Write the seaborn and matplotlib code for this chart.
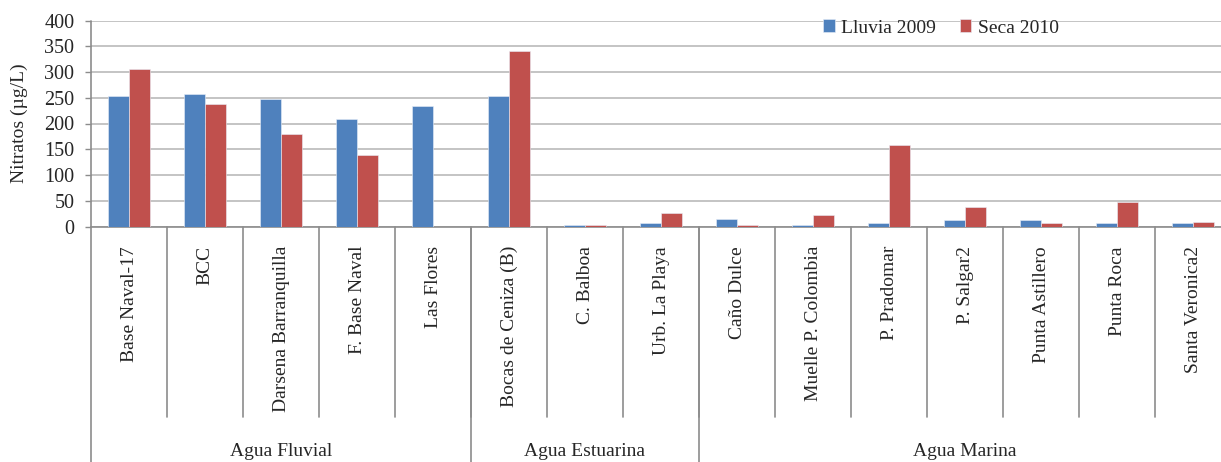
import numpy as np
import pandas as pd
import matplotlib
matplotlib.use("Agg")
import matplotlib.pyplot as plt
import matplotlib.transforms as mtransforms
import seaborn as sns

# station names (bottom level of the category axis)
stations = ["Base Naval-17", "BCC", "Darsena Barranquilla", "F. Base Naval", "Las Flores",
            "Bocas de Ceniza (B)", "C. Balboa", "Urb. La Playa",
            "Caño Dulce", "Muelle P. Colombia", "P. Pradomar", "P. Salgar2",
            "Punta Astillero", "Punta Roca", "Santa Veronica2"]
# water type groups (top level) and how many stations each has
groups = ["Agua Fluvial", "Agua Estuarina", "Agua Marina"]
group_sizes = [5, 3, 7]

lluvia_2009 = [254, 257, 248, 209, 234, 254, 3, 6, 15, 3, 6, 12, 12, 6, 6]
seca_2010 = [306, 237, 180, 139, 0, 341, 3, 26, 3, 23, 159, 38, 6, 47, 9]

series_names = ["Lluvia 2009", "Seca 2010"]
colors = ["#4F81BD", "#C0504D"]

df = pd.DataFrame({
    "Estacion": stations * 2,
    "Nitratos": lluvia_2009 + seca_2010,
    "Epoca": [series_names[0]] * len(stations) + [series_names[1]] * len(stations),
})

sns.set_style("white")
plt.rcParams["font.family"] = ["Liberation Serif", "DejaVu Serif"]

W, H = 1221, 462
fig = plt.figure(figsize=(W / 100, H / 100), dpi=100)
ax = fig.add_axes([91 / W, 1 - 226.5 / H, 1140 / W, 206 / H])

sns.barplot(data=df, x="Estacion", y="Nitratos", hue="Epoca", order=stations,
            hue_order=series_names, palette=colors, width=0.56, gap=0,
            saturation=1, edgecolor="#e8eef8", linewidth=0.4, ax=ax, zorder=3)

ax.set_ylim(0, 400)
ax.set_xlim(-0.5, len(stations) - 0.5)
ax.set_yticks(np.arange(0, 401, 50))
ax.yaxis.grid(True, color="#c4c4c4", linewidth=1.4, zorder=0)
ax.set_axisbelow(True)
for s in ["top", "right"]:
    ax.spines[s].set_visible(False)
ax.spines["left"].set_visible(False)
ax.spines["bottom"].set_color("#8c8c8c")
ax.spines["bottom"].set_linewidth(1.2)
ax.tick_params(axis="y", labelsize=14.5, length=4, width=1, color="#8c8c8c",
               direction="out", pad=8, left=True)
ax.set_xticks([])
ax.set_xlabel("")
ax.set_ylabel("Nitratos (µg/L)", fontsize=14, labelpad=12)

# legend at the top right, no frame
ax.legend(loc="center left", bbox_to_anchor=(732 / 1140, 1 - 7.5 / 206), ncol=2,
          frameon=False, fontsize=14, handlelength=0.6, handleheight=0.6,
          handletextpad=0.35, columnspacing=1.2, borderaxespad=0, borderpad=0)

# multi-level category axis below the plot
trans = mtransforms.blended_transform_factory(ax.transData, fig.transFigure)
line_kw = dict(color="#8c8c8c", linewidth=1.2, clip_on=False, transform=trans)
y_axis_bottom = 1 - 226.5 / H
y_tick_bottom = 1 - 417 / H

# left vertical axis line running down through the category area
ax.plot([-0.5, -0.5], [0, 1 - 20.5 / H], **line_kw)

for i in range(1, len(stations)):
    ax.plot([i - 0.5, i - 0.5], [y_tick_bottom, y_axis_bottom], **line_kw)

for i, name in enumerate(stations):
    ax.text(i, 1 - 246 / H, name, rotation=90, ha="center", va="top",
            fontsize=14, transform=trans)

start = 0
for g, n in zip(groups, group_sizes):
    end = start + n
    ax.plot([end - 0.5, end - 0.5], [0, y_axis_bottom], **line_kw)
    ax.text((start + end - 1) / 2, 1 - 451 / H, g, ha="center", va="center",
            fontsize=14, transform=trans)
    start = end

fig.savefig("out.png", dpi=100)
